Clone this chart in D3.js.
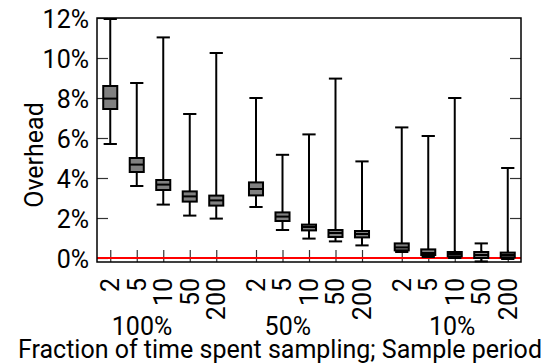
<!DOCTYPE html>
<html>
<head>
<meta charset="utf-8">
<script src="https://cdn.jsdelivr.net/npm/d3@7"></script>
<style>
  body { margin: 0; background: #fff; }
  svg text { font-family: Roboto, "Liberation Sans", sans-serif; fill: #000; }
</style>
</head>
<body>
<div id="chart"></div>
<script>
// Groups: fraction of time spent sampling; each has 5 sample periods
const groups = ['100%', '50%', '10%'];
const periods = ['2', '5', '10', '50', '200'];
const yTicks = [0, 2, 4, 6, 8, 10, 12];

// Per box values (percent), order: group by group, period by period
const whiskerLow = [5.7, 3.6, 2.67, 2.12, 1.97, 2.55, 1.4, 0.97, 0.83, 0.63, 0.3, 0.05, 0.0, -0.17, -0.05];
const q1 = [7.45, 4.3, 3.4, 2.82, 2.62, 3.13, 1.85, 1.38, 1.05, 1.03, 0.38, 0.15, 0.08, 0.0, 0.03];
const median = [7.97, 4.67, 3.67, 3.08, 2.88, 3.45, 2.07, 1.55, 1.25, 1.2, 0.53, 0.25, 0.2, 0.15, 0.15];
const q3 = [8.6, 5.0, 3.9, 3.33, 3.12, 3.78, 2.28, 1.67, 1.4, 1.35, 0.73, 0.43, 0.3, 0.3, 0.27];
const whiskerHigh = [11.95, 8.75, 11.03, 7.2, 10.25, 8.0, 5.16, 6.18, 8.97, 4.83, 6.53, 6.1, 8.0, 0.73, 4.5];

const W = 555, H = 364;
const FS = 25;
const margin = { top: 18, right: 34, bottom: 102, left: 97 };
const w = W - margin.left - margin.right;
const h = H - margin.top - margin.bottom;

const boxes = [];
groups.forEach((g, gi) => {
  periods.forEach((p, pi) => {
    const i = gi * periods.length + pi;
    boxes.push({
      group: g, period: p, pos: gi * 5.5 + pi,
      lo: whiskerLow[i], q1: q1[i], med: median[i], q3: q3[i], hi: whiskerHigh[i]
    });
  });
});

const svg = d3.select('#chart').append('svg').attr('width', W).attr('height', H);
const g = svg.append('g').attr('transform', `translate(${margin.left},${margin.top})`);

const x = d3.scaleLinear().domain([-0.5, 15.5]).range([0, w]);
const y = d3.scaleLinear().domain([-0.2, 12]).range([h, 0]);

const boxW = x(0.53) - x(0);
const capW = x(0.5) - x(0);

// Inward ticks, left and mirrored right
g.append('g').call(d3.axisLeft(y).tickValues(yTicks).tickFormat(d => d + '%').tickSize(-11).tickPadding(8))
  .call(a => a.select('.domain').remove())
  .call(a => a.selectAll('text').attr('font-size', FS).attr('dy', '0.36em'))
  .call(a => a.selectAll('line').attr('stroke', '#333').attr('stroke-width', 1.2));
g.append('g').attr('transform', `translate(${w},0)`)
  .call(d3.axisRight(y).tickValues(yTicks.slice(1, -1)).tickFormat('').tickSize(-11))
  .call(a => a.select('.domain').remove())
  .call(a => a.selectAll('line').attr('stroke', '#333').attr('stroke-width', 1.2));

// Bottom ticks, labels rotated
const xa = g.append('g').attr('transform', `translate(0,${h})`)
  .call(d3.axisBottom(x).tickValues(boxes.map(b => b.pos)).tickFormat((d, i) => boxes[i].period).tickSize(-12))
  .call(a => a.select('.domain').remove())
  .call(a => a.selectAll('line').attr('stroke', '#333').attr('stroke-width', 1.2));
xa.selectAll('text')
  .attr('font-size', FS)
  .attr('transform', 'rotate(-90)')
  .attr('text-anchor', 'end')
  .attr('x', -16).attr('y', 0).attr('dy', '0.33em');

// Zero reference line
g.append('line')
  .attr('x1', 0).attr('x2', w).attr('y1', y(0)).attr('y2', y(0))
  .attr('stroke', '#ff0000').attr('stroke-width', 2);

// Boxes
const bx = g.selectAll('.box').data(boxes).join('g').attr('class', 'box')
  .attr('transform', d => `translate(${x(d.pos)},0)`);
bx.append('line').attr('y1', d => y(d.lo)).attr('y2', d => y(d.hi))
  .attr('stroke', '#000').attr('stroke-width', 2);
bx.append('line').attr('x1', -capW / 2).attr('x2', capW / 2)
  .attr('y1', d => y(d.hi)).attr('y2', d => y(d.hi)).attr('stroke', '#000').attr('stroke-width', 2);
bx.append('line').attr('x1', -capW / 2).attr('x2', capW / 2)
  .attr('y1', d => y(d.lo)).attr('y2', d => y(d.lo)).attr('stroke', '#000').attr('stroke-width', 2);
bx.append('rect')
  .attr('x', -boxW / 2).attr('width', boxW)
  .attr('y', d => y(d.q3)).attr('height', d => Math.max(1, y(d.q1) - y(d.q3)))
  .attr('fill', '#808080').attr('stroke', '#000').attr('stroke-width', 2);
bx.append('line').attr('x1', -boxW / 2).attr('x2', boxW / 2)
  .attr('y1', d => y(d.med)).attr('y2', d => y(d.med)).attr('stroke', '#000').attr('stroke-width', 2);

// Frame
g.append('rect').attr('width', w).attr('height', h)
  .attr('fill', 'none').attr('stroke', '#000').attr('stroke-width', 1.5);

// Group labels
const groupLabelPos = [1.2, 6.7, 12.9];
g.selectAll('.glabel').data(groups).join('text').attr('class', 'glabel')
  .attr('x', (d, i) => x(groupLabelPos[i])).attr('y', 335 - margin.top)
  .attr('text-anchor', 'middle').attr('font-size', FS).text(d => d);

// Axis titles
svg.append('text').attr('x', 280).attr('y', 357.5).attr('text-anchor', 'middle')
  .attr('font-size', FS).text('Fraction of time spent sampling; Sample period');
svg.append('text').attr('transform', 'translate(43,155) rotate(-90)')
  .attr('text-anchor', 'middle').attr('font-size', FS).text('Overhead');
</script>
</body>
</html>
